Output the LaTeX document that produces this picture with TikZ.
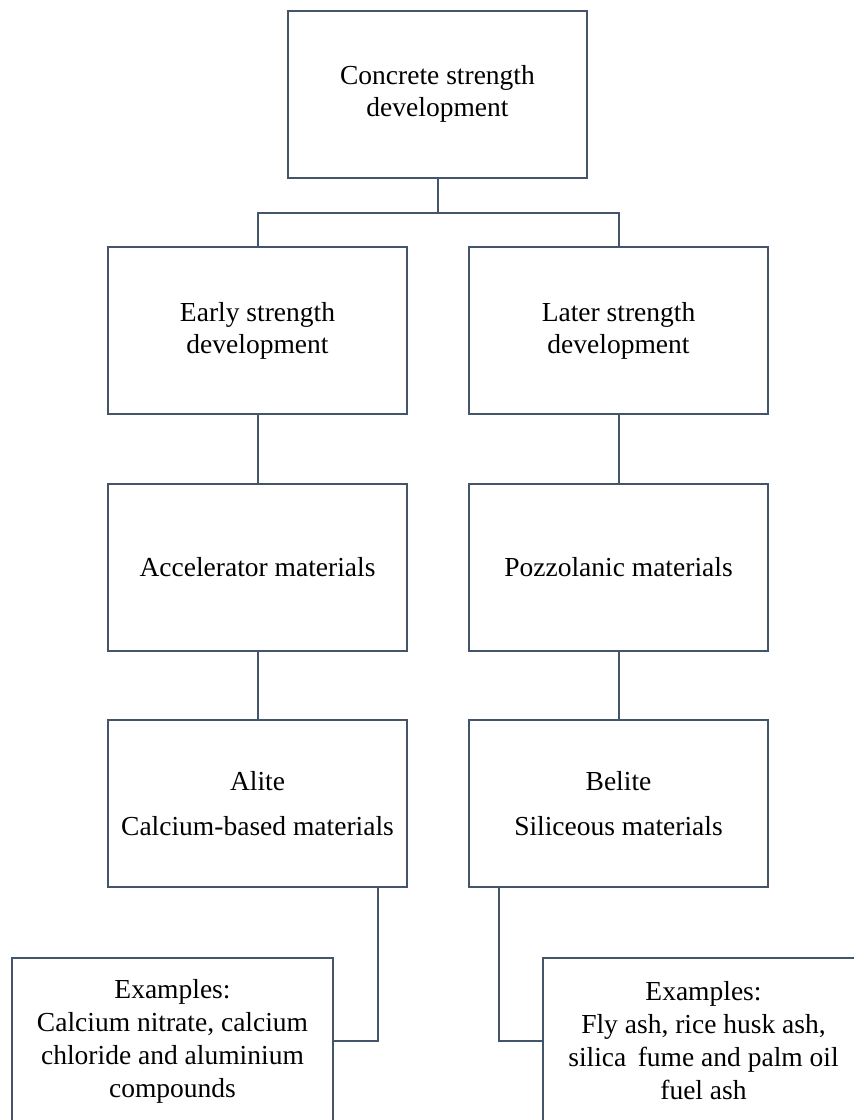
\documentclass[tikz,border=0pt]{standalone}
\usepackage{fontspec}
\setmainfont{Liberation Serif}
\usepackage{tikz}
\definecolor{slate}{HTML}{44546A}
\tikzset{
	box/.style={draw=slate,line width=2pt,fill=white,minimum width=299pt,minimum height=167pt,inner sep=0pt,align=center,font=\fontsize{27.5}{32}\selectfont,name=#1},
	exbox/.style={box=#1,minimum width=321pt,minimum height=166pt,font=\fontsize{27.5}{33}\selectfont},
	link/.style={draw=slate,line width=2pt}
}

\begin{document}
\begin{tikzpicture}[x=1pt,y=-1pt]
	\path[use as bounding box,clip] (0,0) rectangle (854,1120);

	\node [box=top] at (437.5,94) {Concrete strength\\development};
	\node [box=early] at (257.5,330.5) {Early strength\\development};
	\node [box=later] at (618.5,330.5) {Later strength\\development};
	\node [box=accel] at (257.5,567.5) {Accelerator materials};
	\node [box=pozz] at (618.5,567.5) {Pozzolanic materials};
	\node [box=alite] at (257.5,803.5) {Alite\\[13pt]Calcium-based materials};
	\node [box=belite] at (618.5,803.5) {Belite\\[13pt]Siliceous materials};
	\node [exbox=exleft] at (172.5,1041) {Examples:\\Calcium nitrate, calcium\\chloride and aluminium\\compounds};
	\node [exbox=exright] at (703.5,1041) {Examples:\\Fly ash, rice husk ash,\\silica\, fume and palm oil\\fuel ash};

	\draw [link] (top.south) -- ++(0,34) -| (early.north);
	\draw [link] (top.south) -- ++(0,34) -| (later.north);
	\draw [link] (early) -- (accel);
	\draw [link] (later) -- (pozz);
	\draw [link] (accel) -- (alite);
	\draw [link] (pozz) -- (belite);
	\draw [link] ([xshift=120.5pt]alite.south) |- (exleft.east);
	\draw [link] ([xshift=-119.5pt]belite.south) |- (exright.west);
\end{tikzpicture}
\end{document}
